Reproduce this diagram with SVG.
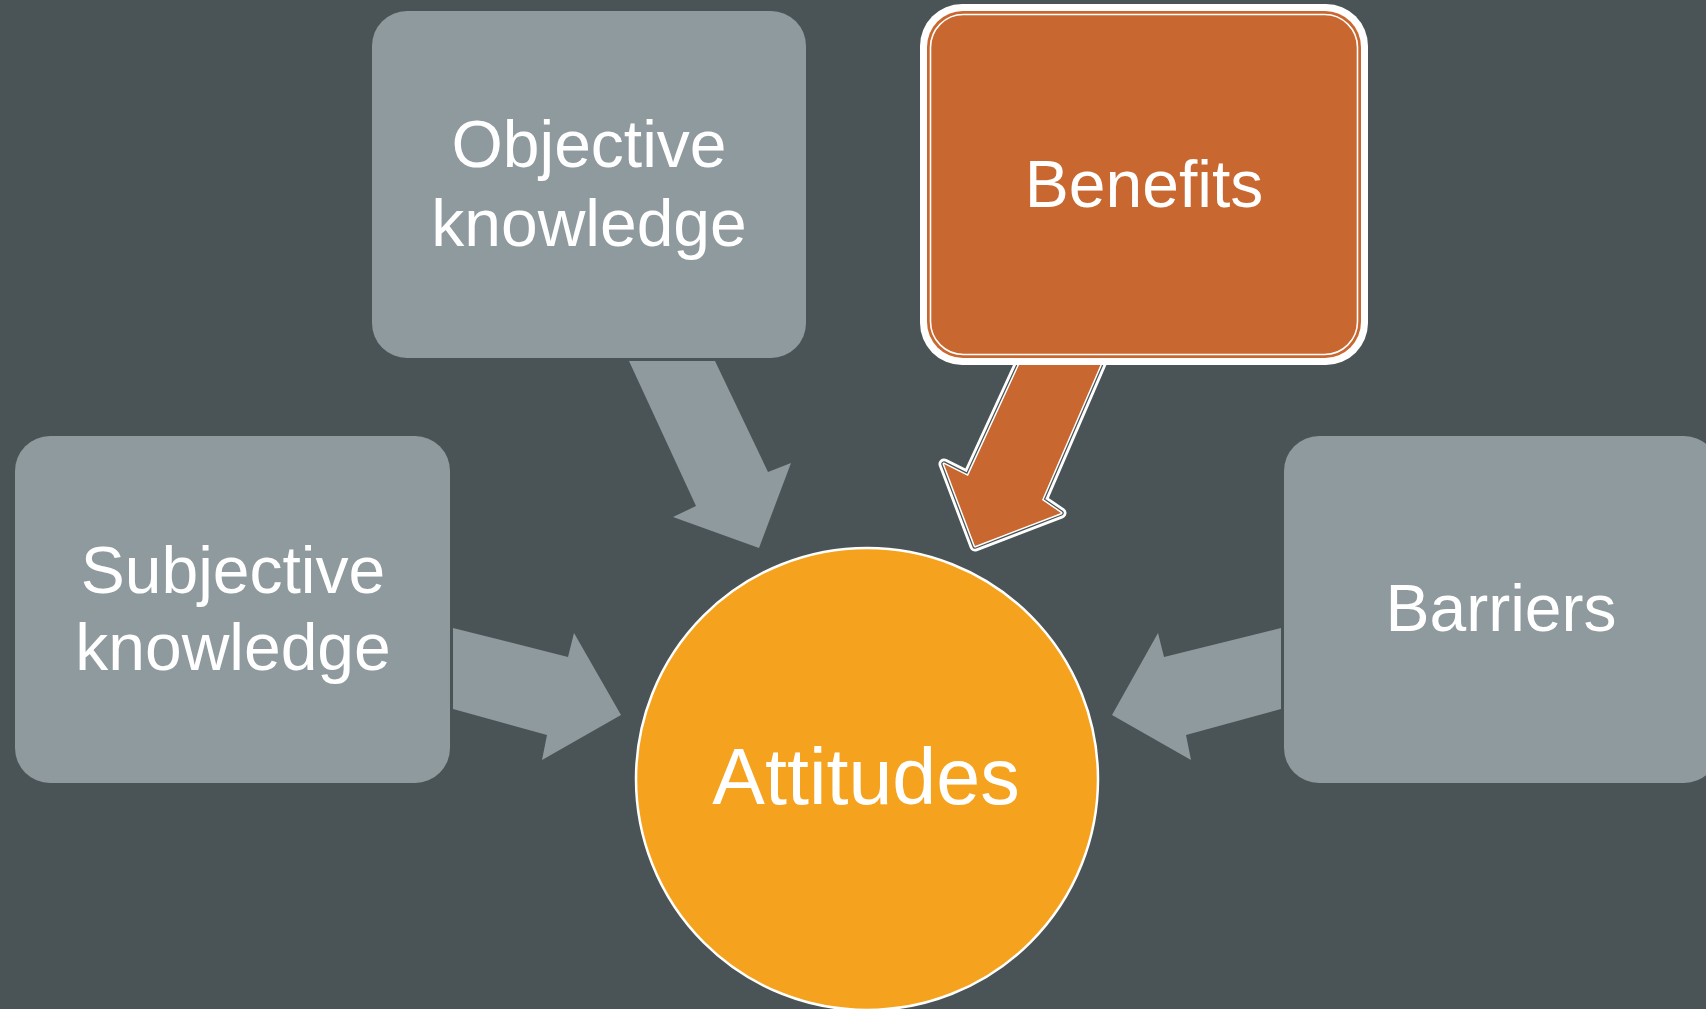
<svg xmlns="http://www.w3.org/2000/svg" width="1706" height="1009" viewBox="0 0 1706 1009">
<style>
.box{fill:#8f9a9e}
.arr{fill:#8f9a9e}
.lbl{font-family:"Liberation Sans",Arial,sans-serif;fill:#ffffff;text-anchor:middle}
</style>
<defs>
  <polygon id="bpath" points="1025,352 1106,352 1042,500 1061,513 975,546 944,464 968,476"/>
</defs>
<rect x="0" y="0" width="1706" height="1009" fill="#4a5457"/>
<g id="connectors">
  <polygon class="arr" points="629,361 715,361 768,472 791,463 759,548 673,517 696,506"/>
  <polygon class="arr" points="453,628 568,657 574,633 621,715 542,760 547,735 453,709"/>
  <polygon class="arr" points="1281,628 1164,657 1158,633 1112,715 1191,760 1186,735 1281,709"/>
  <g id="benefits-arrow">
    <use href="#bpath" fill="none" stroke="#ffffff" stroke-width="11" stroke-linejoin="round"/>
    <use href="#bpath" fill="none" stroke="#4a5457" stroke-width="5.5" stroke-linejoin="round"/>
    <use href="#bpath" fill="none" stroke="#ffffff" stroke-width="3" stroke-linejoin="round"/>
    <use href="#bpath" fill="#c86830"/>
  </g>
</g>
<g id="node-objective">
  <rect class="box" x="372" y="11" width="434" height="347" rx="35"/>
  <text class="lbl" x="589" y="167" font-size="66">Objective</text>
  <text class="lbl" x="589" y="246" font-size="66">knowledge</text>
</g>
<g id="node-subjective">
  <rect class="box" x="15" y="436" width="435" height="347" rx="35"/>
  <text class="lbl" x="233" y="593" font-size="66">Subjective</text>
  <text class="lbl" x="233" y="670" font-size="66">knowledge</text>
</g>
<g id="node-barriers">
  <rect class="box" x="1284" y="436" width="435" height="347" rx="35"/>
  <text class="lbl" x="1501" y="631" font-size="66">Barriers</text>
</g>
<g id="node-benefits">
  <rect x="920" y="4" width="448" height="361" rx="42" fill="#ffffff"/>
  <rect x="927" y="11" width="434" height="347" rx="36" fill="#c86830"/>
  <rect x="930.5" y="14.5" width="427" height="340" rx="33" fill="none" stroke="#ffffff" stroke-width="1.6"/>
  <text class="lbl" x="1144" y="207" font-size="66">Benefits</text>
</g>
<g id="node-attitudes">
  <circle cx="867" cy="779" r="231" fill="#f5a31e" stroke="#ffffff" stroke-width="2.5"/>
  <text class="lbl" x="866" y="804" font-size="79">Attitudes</text>
</g>
</svg>
